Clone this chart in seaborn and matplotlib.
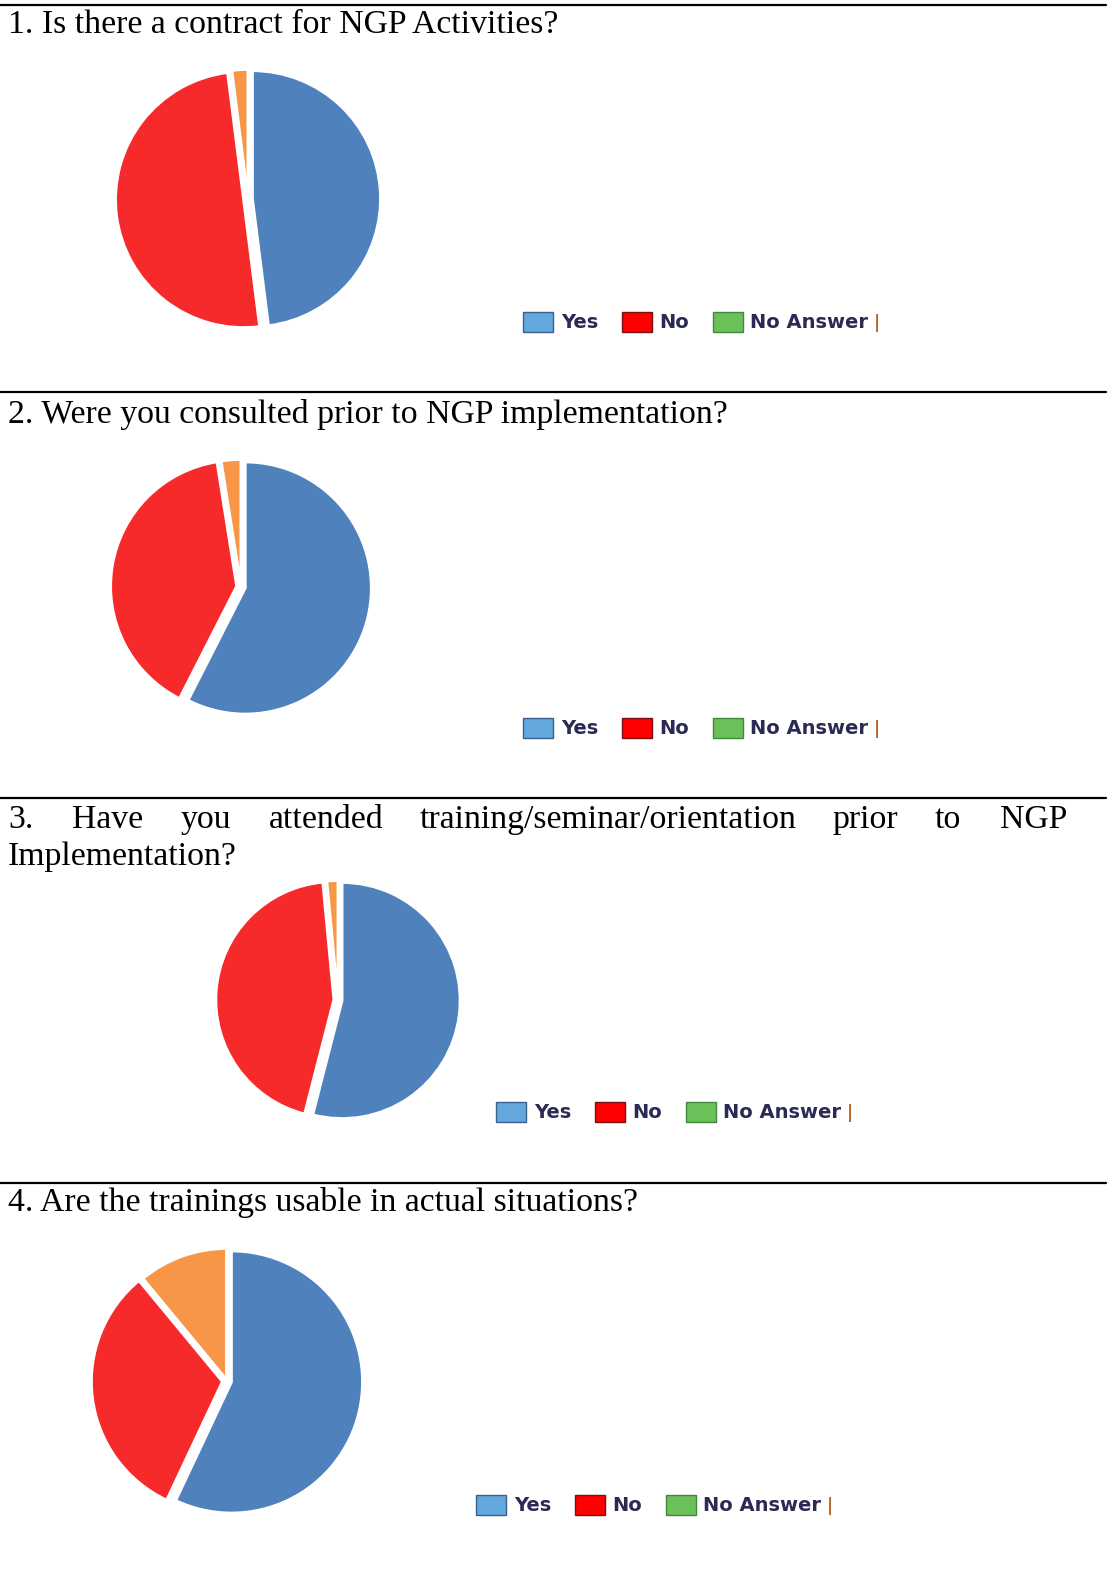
import matplotlib
matplotlib.use("Agg")
import matplotlib.pyplot as plt
import seaborn as sns
from matplotlib.lines import Line2D
from matplotlib.patches import Patch

# Survey answers (percent of respondents)
labels = ["Yes", "No", "No Answer"]
q1_values = [48, 50, 2]
q2_values = [57.5, 40, 2.5]
q3_values = [54, 44.5, 1.5]
q4_values = [57, 32, 11]

questions = [
    "1. Is there a contract for NGP Activities?",
    "2. Were you consulted prior to NGP implementation?",
    "3.    Have    you    attended    training/seminar/orientation    prior    to    NGP",
    "4. Are the trainings usable in actual situations?",
]

sns.set_theme(style="white")
pie_colors = ["#4F81BD", "#F72A2B", "#F79646"]
legend_colors = ["#62A8DC", "#FF0000", "#6CC05A"]
legend_edges = ["#3a5f8a", "#7a1010", "#3f8a3a"]

W, H = 1112, 1576
fig = plt.figure(figsize=(W / 100, H / 100), dpi=100)

def fx(x):
    return x / W

def fy(y):
    return 1 - y / H

# separator lines
for y in [5, 392, 798, 1183]:
    fig.add_artist(Line2D([0, fx(1106)], [fy(y), fy(y)], color="black", lw=1.6))

serif = "Liberation Serif"
tsize = 24.3
fig.text(fx(8), fy(25), questions[0], fontsize=tsize, family=serif, va="center", color="black")
fig.text(fx(8), fy(414), questions[1], fontsize=tsize, family=serif, va="center", color="black")
# justified line of question 3
words3 = ["3.", "Have", "you", "attended", "training/seminar/orientation", "prior", "to", "NGP"]
xs3 = [8, 72, 181, 269, 420, 832, 935, 1000]
for w, x in zip(words3, xs3):
    fig.text(fx(x), fy(820), w, fontsize=tsize, family=serif, va="center", color="black")
fig.text(fx(8), fy(857), "Implementation?", fontsize=tsize, family=serif, va="center", color="black")
fig.text(fx(8), fy(1203), questions[3], fontsize=tsize, family=serif, va="center", color="black")

panels = [
    (q1_values, (248, 199), 128, (523, 322)),
    (q2_values, (241, 587), 126, (523, 728)),
    (q3_values, (338, 1000), 118, (496, 1112)),
    (q4_values, (227, 1381), 131, (476, 1505)),
]

fig.canvas.draw()
renderer = fig.canvas.get_renderer()

for values, (cx, cy), r, (lx, ly) in panels:
    half = r * 1.1
    ax = fig.add_axes([fx(cx - half), fy(cy + half), 2 * half / W, 2 * half / H])
    ax.pie(values, colors=pie_colors, startangle=90, counterclock=False,
           explode=[0.035, 0.035, 0.012],
           wedgeprops=dict(edgecolor="white", linewidth=2))
    ax.set_xlim(-1.1, 1.1)
    ax.set_ylim(-1.1, 1.1)
    ax.set_aspect("equal")
    ax.axis("off")

    handles = [Patch(facecolor=c, edgecolor=e, linewidth=1.0)
               for c, e in zip(legend_colors, legend_edges)]
    leg = fig.legend(handles, labels, loc="center left", bbox_to_anchor=(fx(lx), fy(ly)),
                     ncol=3, frameon=False, handlelength=1.55, handleheight=1.25,
                     handletextpad=0.4, columnspacing=1.2, borderpad=0, borderaxespad=0,
                     prop=dict(family="DejaVu Sans", weight="bold", size=14))
    for t in leg.get_texts():
        t.set_color("#2a2a55")
    # clipped stub after the last legend entry
    fig.canvas.draw()
    bb = leg.get_texts()[-1].get_window_extent(renderer)
    fig.text((bb.x1 + 5) / W, (bb.y0 + bb.y1) / 2 / H, "|", fontsize=12, weight="bold",
             color="#b5652a", va="center", family="DejaVu Sans")

fig.savefig("out.png", dpi=100)
